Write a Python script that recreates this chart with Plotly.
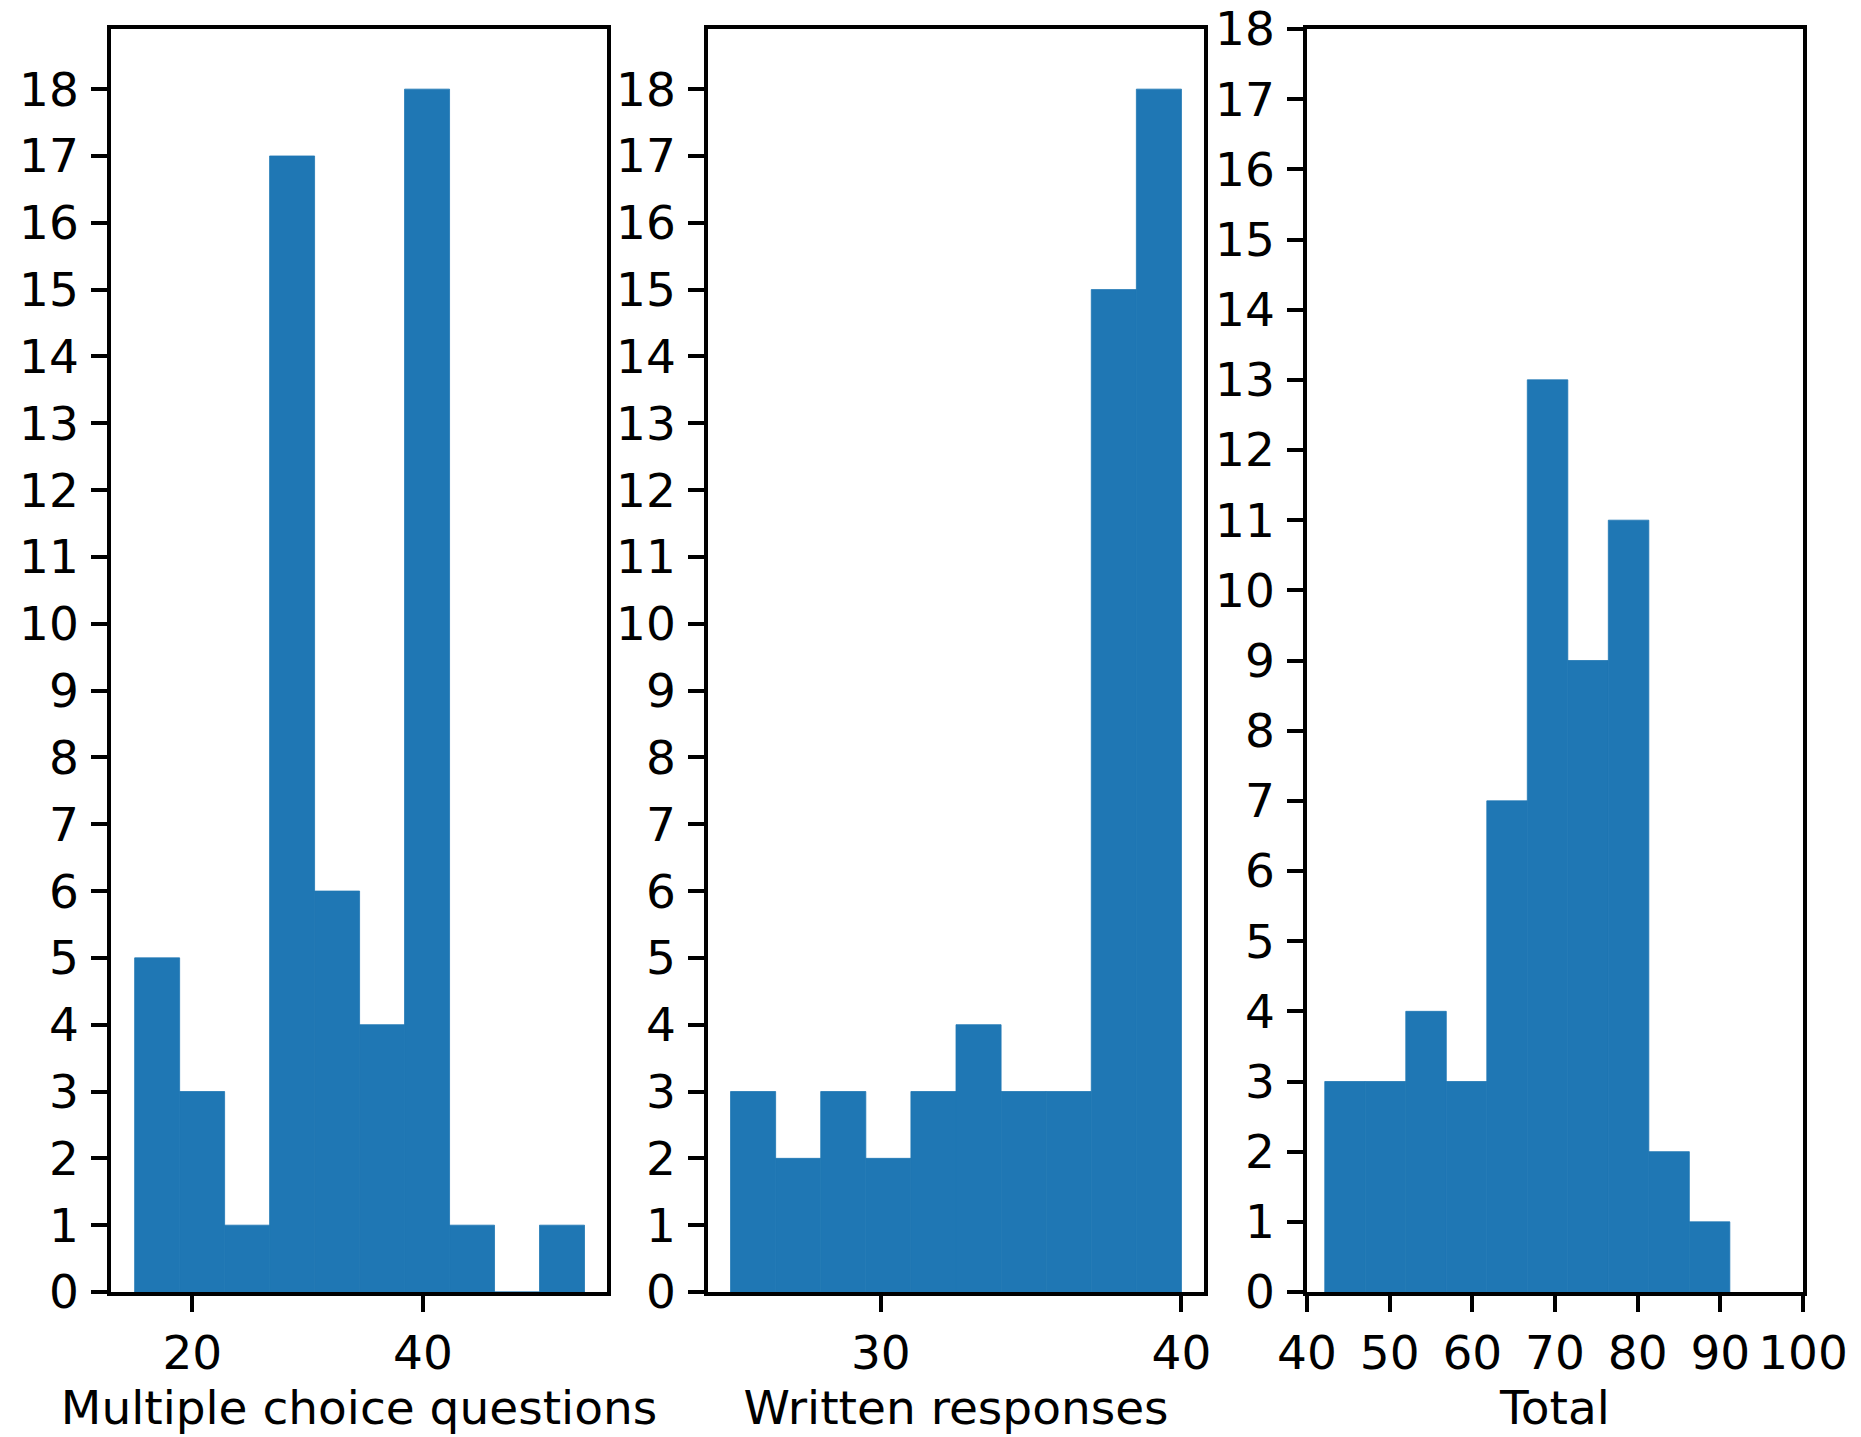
import plotly.graph_objects as go

W, H = 1861, 1437

# Histogram data (bin left edges, bin width, counts)
mc_edges = [15.0, 18.9, 22.8, 26.7, 30.6, 34.5, 38.4, 42.3, 46.2, 50.1]
mc_width = 3.9
mc_counts = [5, 3, 1, 17, 6, 4, 18, 1, 0, 1]

wr_edges = [25.0, 26.5, 28.0, 29.5, 31.0, 32.5, 34.0, 35.5, 37.0, 38.5]
wr_width = 1.5
wr_counts = [3, 2, 3, 2, 3, 4, 3, 3, 15, 18]

tot_edges = [42.15, 47.05, 51.95, 56.85, 61.75, 66.65, 71.55, 76.45, 81.35, 86.25]
tot_width = 4.9
tot_counts = [3, 3, 4, 3, 7, 13, 9, 11, 2, 1]

titles = ["Multiple choice questions", "Written responses", "Total"]
xticks = [[20, 40], [30, 40], [40, 50, 60, 70, 80, 90, 100]]
xranges = [[12.95, 55.95], [24.25, 40.75], [40, 100]]
yranges = [[0, 18.9], [0, 18.9], [0, 18]]
yticks = list(range(0, 19))

color = "#1f77b4"
FONT = "DejaVu Sans"
FS = 47

# panel pixel boxes (page body has an 8px margin, compensated here)
OFF = 8
px_left = [111 - OFF, 708 - OFF, 1307 - OFF]
px_right = [607 - OFF, 1204 - OFF, 1803 - OFF]
top_px, bot_px = 29 - OFF, 1292 - OFF

fig = go.Figure()
data = [(mc_edges, mc_width, mc_counts), (wr_edges, wr_width, wr_counts),
        (tot_edges, tot_width, tot_counts)]

layout = dict(
    width=W, height=H,
    margin=dict(l=0, r=0, t=0, b=0, autoexpand=False),
    paper_bgcolor="white", plot_bgcolor="white",
    showlegend=False,
    font=dict(family=FONT, size=FS, color="black"),
)

for i, (edges, w, counts) in enumerate(data):
    xa = "x" if i == 0 else f"x{i+1}"
    ya = "y" if i == 0 else f"y{i+1}"
    fig.add_trace(go.Bar(
        x=edges, y=counts, width=[w] * len(edges), offset=0,
        marker=dict(color=color, line=dict(width=0.8, color=color)),
        xaxis=xa, yaxis=ya, hoverinfo="skip",
    ))
    key = "" if i == 0 else str(i + 1)
    axstyle = dict(showline=True, linecolor="black", linewidth=3.5, mirror=True,
                   ticks="outside", ticklen=16, tickwidth=3.5, tickcolor="black",
                   showgrid=False, zeroline=False, automargin=False,
                   ticklabeloverflow="allow",
                   tickfont=dict(family=FONT, size=FS, color="black"))
    layout["xaxis" + key] = dict(
        domain=[px_left[i] / W, px_right[i] / W],
        range=xranges[i], tickvals=xticks[i], anchor=ya,
        title=dict(text=titles[i], font=dict(family=FONT, size=FS), standoff=12),
        ticklabelstandoff=1,
        **axstyle)
    layout["yaxis" + key] = dict(
        domain=[1 - bot_px / H, 1 - top_px / H],
        range=yranges[i], tickvals=yticks, anchor=xa,
        ticklabelstandoff=3,
        **axstyle)

fig.update_layout(**layout)
fig.write_html("out.html")
